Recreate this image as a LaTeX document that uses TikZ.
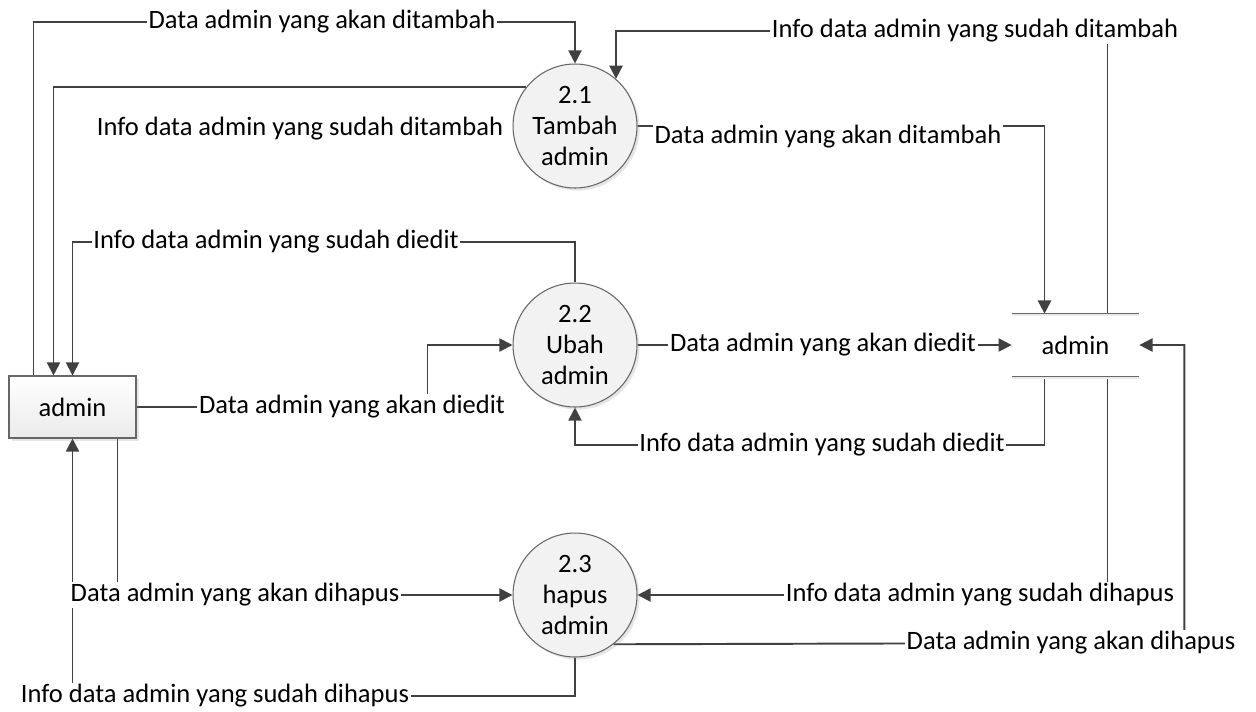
\documentclass[tikz,border=0pt]{standalone}
\usepackage{fontspec}
\setmainfont{Carlito}
\usetikzlibrary{arrows.meta,shadows,backgrounds}
\colorlet{flowgray}{black!75}
\colorlet{edgegray}{black!60}
\colorlet{procfill}{black!5}

\begin{document}
\begin{tikzpicture}[x=0.02cm,y=-0.02cm,font=\fontsize{15.1pt}{17.8pt}\selectfont,
    proc/.style={circle,draw=edgegray,line width=0.6pt,fill=procfill,minimum size=2.48cm,inner sep=0pt,align=center,
      drop shadow={opacity=0.2,shadow xshift=1.5pt,shadow yshift=-1.5pt}},
    ent/.style={rectangle,draw=edgegray,line width=0.6pt,top color=white,bottom color=black!8,minimum width=2.54cm,minimum height=1.24cm,
      drop shadow={opacity=0.2,shadow xshift=1.5pt,shadow yshift=-1.5pt}},
    store/.style={minimum width=2.54cm,minimum height=1.24cm,inner sep=0pt},
    lbl/.style={fill=white,inner sep=1pt},
    flow/.style={flowgray,line width=1.1pt,-{Triangle[length=7.5pt,width=7.5pt]}}]
  \useasboundingbox (0,0) rectangle (1256,711);
  % terminator, processes, data store
  \node[ent] (ent) at (72.5,407) {admin};
  \node[proc] (p21) at (575,126) {2.1\\Tambah\\admin};
  \node[proc] (p22) at (575,345) {2.2\\Ubah\\admin};
  \node[proc] (p23) at (575,595) {2.3\\hapus\\admin};
  \node[store] (store) at (1075.5,345) {admin};
  \draw[black!8,line width=1.2pt] ([yshift=-1pt]store.north west) -- ([yshift=-1pt]store.north east)
    ([yshift=-1pt]store.south west) -- ([yshift=-1pt]store.south east);
  \draw[edgegray,line width=0.6pt] (store.north west) -- (store.north east)
    (store.south west) -- (store.south east);
  % flow labels
  \node[lbl] (l1) at (322,22) {Data admin yang akan ditambah};
  \node[lbl] (l2) at (975,31) {Info data admin yang sudah ditambah};
  \node[lbl] (l3) at (300,129) {Info data admin yang sudah ditambah};
  \node[lbl] (l4) at (828,137) {Data admin yang akan ditambah};
  \node[lbl] (l5) at (276,242) {Info data admin yang sudah diedit};
  \node[lbl] (l6) at (352,407) {Data admin yang akan diedit};
  \node[lbl] (l7) at (823,345) {Data admin yang akan diedit};
  \node[lbl] (l8) at (822,445) {Info data admin yang sudah diedit};
  \node[lbl] (l9) at (235,595) {Data admin yang akan dihapus};
  \node[lbl] (l10) at (215,696) {Info data admin yang sudah dihapus};
  \node[lbl] (l11) at (980,595) {Info data admin yang sudah dihapus};
  \node[lbl] (l12) at (1071,643) {Data admin yang akan dihapus};
  % flows
  \begin{scope}[on background layer]
    \draw[flow] ([xshift=0.5cm]ent.north west) |- (l1.center) -| (p21.north);
    \draw[flow] ([xshift=0.64cm]store.north) |- (l2.center) -| (p21.49);
    \draw[flow] (p21.141) -| ([xshift=0.9cm]ent.north west);
    \draw[flow] (p21.east) -| ([xshift=-0.62cm]store.north);
    \draw[flow] (p22.north) |- (l5.center) -| (ent.north);
    \draw[flow] (ent.east) -- (l6.center) -| ([xshift=-1.7cm]p22.west) -- (p22.west);
    \draw[flow] (p22.east) -- (l7.center) -- (store.west);
    \draw[flow] ([xshift=-0.62cm]store.south) |- (l8.center) -| (p22.south);
    \draw[flow] ([xshift=-0.38cm]ent.south east) |- (l9.center) -- (p23.west);
    \draw[flow] (p23.south) |- (l10.center) -| (ent.south);
    \draw[flow] ([xshift=0.64cm]store.south) |- (l11.center) -- (p23.east);
    \draw[flow] (p23.-52) -- (l12.center) -| ([xshift=0.9cm]store.east) -- (store.east);
  \end{scope}
\end{tikzpicture}
\end{document}
